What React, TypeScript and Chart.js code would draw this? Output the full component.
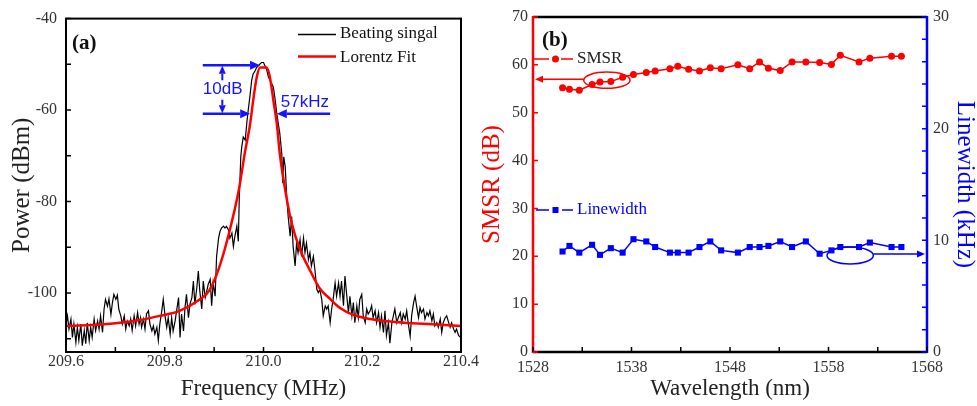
import { useEffect, useRef } from "react";
import { Chart, registerables } from "chart.js";

Chart.register(...registerables);

const SERIF = "'Liberation Serif', 'Times New Roman', serif";
const SANS = "'Liberation Sans', Arial, sans-serif";
const RED = "#ff0000";
const BLUE = "#0000ff";
const ANNOT_BLUE = "#1414ff";
const TICK_COLOR = "#333333";

// ---------- Panel (a): beating spectrum ----------
const FREQ_TICKS = [209.6, 209.8, 210.0, 210.2, 210.4];
const FREQ_MINOR_TICKS = [209.7, 209.9, 210.1, 210.3];
const POWER_TICKS = [-100, -80, -60, -40];
const POWER_MINOR_TICKS = [-110, -90, -70, -50];
const FREQ_RANGE = [209.6, 210.4];
const POWER_RANGE = [-112.9, -40];

// [frequency MHz, power dBm]
const BEATING_SIGNAL: [number, number][] = [
  [209.600, -106.8], [209.603, -105.0], [209.606, -107.9], [209.610, -105.7], [209.613, -109.7],
  [209.616, -106.8], [209.620, -110.8], [209.623, -107.5], [209.626, -110.4], [209.630, -106.8],
  [209.633, -111.5], [209.637, -108.2], [209.640, -111.1], [209.643, -106.5], [209.647, -110.4],
  [209.650, -107.5], [209.653, -109.7], [209.657, -105.7], [209.660, -108.2], [209.664, -106.1],
  [209.667, -107.9], [209.670, -105.0], [209.674, -108.6], [209.677, -103.6], [209.680, -101.4],
  [209.684, -102.9], [209.687, -101.3], [209.691, -104.7], [209.694, -102.1], [209.697, -100.3],
  [209.701, -101.4], [209.704, -100.5], [209.707, -103.6], [209.711, -105.0], [209.714, -106.8],
  [209.718, -105.0], [209.721, -107.9], [209.724, -106.1], [209.728, -107.2], [209.731, -105.7],
  [209.734, -108.2], [209.738, -105.0], [209.741, -107.2], [209.745, -104.3], [209.748, -106.8],
  [209.751, -105.4], [209.753, -107.5], [209.757, -105.7], [209.760, -107.9], [209.763, -104.6],
  [209.767, -103.9], [209.770, -106.8], [209.774, -108.3], [209.777, -107.2], [209.780, -109.0],
  [209.784, -107.5], [209.787, -110.4], [209.790, -106.8], [209.794, -103.9], [209.797, -101.4],
  [209.801, -105.4], [209.804, -107.5], [209.807, -105.4], [209.811, -109.0], [209.814, -105.4],
  [209.817, -108.3], [209.821, -106.1], [209.824, -103.9], [209.828, -101.0], [209.831, -109.7],
  [209.834, -104.6], [209.838, -108.3], [209.841, -103.2], [209.844, -100.3], [209.848, -105.4],
  [209.851, -102.5], [209.855, -101.0], [209.858, -97.4], [209.861, -102.5], [209.865, -98.8],
  [209.868, -95.2], [209.871, -99.6], [209.875, -103.5], [209.878, -97.4], [209.882, -101.0],
  [209.885, -99.6], [209.888, -98.1], [209.892, -97.0], [209.895, -102.8], [209.898, -97.8],
  [209.902, -100.7], [209.905, -92.0], [209.909, -88.0], [209.912, -86.5], [209.915, -85.8],
  [209.919, -85.4], [209.922, -85.8], [209.925, -85.4], [209.929, -86.2], [209.932, -88.0],
  [209.936, -86.9], [209.939, -89.8], [209.942, -87.6], [209.946, -85.4], [209.949, -88.7],
  [209.951, -78.9], [209.954, -70.2], [209.956, -68.0], [209.959, -65.9], [209.963, -66.6],
  [209.966, -63.0], [209.969, -60.1], [209.973, -56.5], [209.976, -53.5], [209.979, -52.1],
  [209.983, -51.4], [209.986, -50.7], [209.990, -50.3], [209.993, -49.9], [209.996, -49.6],
  [210.000, -49.6], [210.003, -50.3], [210.006, -51.0], [210.010, -52.8], [210.017, -54.3],
  [210.020, -55.0], [210.023, -57.2], [210.027, -60.8], [210.030, -63.0], [210.033, -65.1],
  [210.037, -69.5], [210.039, -76.0], [210.041, -70.2], [210.044, -72.4], [210.047, -78.9],
  [210.050, -83.3], [210.054, -87.6], [210.057, -83.3], [210.060, -89.8], [210.064, -94.1],
  [210.067, -89.1], [210.070, -91.2], [210.074, -88.3], [210.077, -92.0], [210.081, -88.0],
  [210.084, -91.2], [210.087, -89.1], [210.091, -92.7], [210.094, -91.2], [210.097, -94.1],
  [210.101, -92.0], [210.104, -94.8], [210.108, -99.2], [210.111, -99.9], [210.114, -99.2],
  [210.118, -101.4], [210.121, -105.0], [210.125, -102.8], [210.128, -103.5], [210.131, -102.8],
  [210.135, -106.5], [210.138, -103.5], [210.141, -101.4], [210.145, -97.8], [210.148, -100.7],
  [210.152, -97.8], [210.155, -100.7], [210.158, -97.4], [210.162, -102.8], [210.165, -96.3],
  [210.168, -99.9], [210.172, -104.3], [210.175, -100.7], [210.179, -105.0], [210.182, -102.1],
  [210.185, -106.5], [210.189, -102.8], [210.192, -105.4], [210.195, -101.4], [210.199, -100.3],
  [210.202, -105.0], [210.206, -106.5], [210.209, -103.5], [210.212, -104.6], [210.216, -103.9],
  [210.219, -102.8], [210.222, -105.4], [210.226, -103.9], [210.229, -106.5], [210.233, -104.3],
  [210.236, -107.5], [210.239, -105.0], [210.243, -108.6], [210.246, -103.9], [210.249, -109.3],
  [210.253, -106.5], [210.256, -111.0], [210.260, -106.5], [210.263, -105.0], [210.266, -103.5],
  [210.270, -106.5], [210.273, -105.4], [210.277, -104.3], [210.280, -106.5], [210.283, -104.6],
  [210.287, -105.7], [210.290, -103.9], [210.293, -106.5], [210.297, -109.5], [210.300, -105.0],
  [210.304, -102.1], [210.307, -100.7], [210.310, -102.8], [210.314, -105.4], [210.317, -103.2],
  [210.320, -104.3], [210.324, -103.5], [210.327, -105.7], [210.331, -104.3], [210.334, -105.0],
  [210.337, -103.9], [210.341, -106.1], [210.344, -104.6], [210.347, -107.2], [210.351, -106.5],
  [210.354, -107.5], [210.358, -105.7], [210.361, -108.6], [210.364, -106.5], [210.368, -105.4],
  [210.371, -105.0], [210.374, -106.1], [210.378, -107.5], [210.381, -106.5], [210.385, -107.9],
  [210.388, -108.6], [210.391, -107.9], [210.395, -109.3], [210.398, -109.6], [210.400, -109.8],
];

const LORENTZ_FIT: [number, number][] = [
  [209.600, -107.2], [209.650, -107.0], [209.700, -106.6], [209.750, -105.9], [209.790, -105.0],
  [209.830, -103.9], [209.870, -101.5], [209.890, -99.5], [209.910, -94.5], [209.930, -87.0],
  [209.950, -77.5], [209.962, -69.5], [209.973, -63.0], [209.979, -58.0], [209.986, -53.0],
  [209.993, -50.7], [210.006, -50.7], [210.013, -52.8], [210.020, -57.9], [210.027, -63.0],
  [210.033, -69.5], [210.044, -77.5], [210.057, -84.7], [210.074, -90.5], [210.094, -95.0],
  [210.114, -99.0], [210.135, -101.3], [210.155, -103.3], [210.182, -104.8], [210.216, -105.7],
  [210.250, -106.2], [210.300, -106.6], [210.350, -106.9], [210.400, -107.2],
];

// annotation (data coordinates)
const PEAK_LEVEL = -50.2;
const DROP_LEVEL = -60.8;

// ---------- Panel (b): SMSR and linewidth ----------
const WL_TICKS = [1528, 1538, 1548, 1558, 1568];
const WL_MINOR_TICKS = [1533, 1543, 1553, 1563];
const SMSR_TICKS = [0, 10, 20, 30, 40, 50, 60, 70];
const LW_TICKS = [0, 10, 20, 30];
const LW_MINOR_TICKS = [2, 4, 6, 8, 12, 14, 16, 18, 22, 24, 26, 28];

const WAVELENGTHS = [
  1531.0, 1531.7, 1532.7, 1534.0, 1534.8, 1535.9, 1537.1, 1538.2, 1539.5, 1540.4,
  1541.9, 1542.7, 1543.8, 1544.9, 1546.0, 1547.1, 1548.8, 1550.0, 1551.0, 1551.9,
  1553.1, 1554.3, 1555.7, 1557.1, 1558.3, 1559.2, 1561.1, 1562.2, 1564.4, 1565.4,
];
const SMSR = [
  55.2, 54.9, 54.7, 55.9, 56.4, 56.5, 57.4, 58.0, 58.4, 58.7,
  59.2, 59.7, 59.1, 58.7, 59.4, 59.2, 60.0, 59.2, 60.6, 59.3,
  58.8, 60.6, 60.6, 60.5, 60.1, 62.0, 60.6, 61.4, 61.8, 61.8,
];
const LINEWIDTH = [
  9.0, 9.5, 8.9, 9.6, 8.7, 9.3, 8.9, 10.1, 9.9, 9.4,
  8.9, 8.9, 8.9, 9.4, 9.9, 9.1, 8.9, 9.4, 9.4, 9.5,
  9.9, 9.4, 9.9, 8.8, 9.1, 9.4, 9.4, 9.8, 9.4, 9.4,
];

// ellipse markers (data coordinates)
const SMSR_ELLIPSE = { x: 1535.5, y: 56.8, rx: 2.35, ry: 1.7, arrowY: 57.0 };
const LW_ELLIPSE = { x: 1560.2, y: 8.64, rx: 2.35, ry: 0.76, arrowY: 8.77 };

function arrow(ctx: CanvasRenderingContext2D, x1: number, y1: number, x2: number, y2: number, len: number, half: number) {
  const ang = Math.atan2(y2 - y1, x2 - x1);
  const bx = x2 - len * Math.cos(ang);
  const by = y2 - len * Math.sin(ang);
  ctx.beginPath();
  ctx.moveTo(x1, y1);
  ctx.lineTo(bx, by);
  ctx.stroke();
  ctx.beginPath();
  ctx.moveTo(x2, y2);
  ctx.lineTo(bx + half * Math.sin(ang), by - half * Math.cos(ang));
  ctx.lineTo(bx - half * Math.sin(ang), by + half * Math.cos(ang));
  ctx.closePath();
  ctx.fill();
}

const panelAPlugin = {
  id: "panelA",
  afterDraw(chart: any) {
    const { ctx, chartArea: ca, scales } = chart;
    const xs = scales.x;
    const ys = scales.y;
    ctx.save();
    ctx.strokeStyle = "#000";
    ctx.lineWidth = 2;
    ctx.strokeRect(ca.left, ca.top, ca.right - ca.left, ca.bottom - ca.top);
    ctx.lineWidth = 1.5;
    ctx.beginPath();
    [...FREQ_TICKS, ...FREQ_MINOR_TICKS].forEach((v) => {
      const p = xs.getPixelForValue(v);
      ctx.moveTo(p, ca.bottom);
      ctx.lineTo(p, ca.bottom - 5);
    });
    [...POWER_TICKS, ...POWER_MINOR_TICKS].forEach((v) => {
      const p = ys.getPixelForValue(v);
      ctx.moveTo(ca.left, p);
      ctx.lineTo(ca.left + 5, p);
    });
    ctx.stroke();

    // legend
    const lx0 = ca.left + 232;
    const lx1 = ca.left + 270;
    ctx.lineWidth = 1.5;
    ctx.strokeStyle = "#000";
    ctx.beginPath();
    ctx.moveTo(lx0, ca.top + 16);
    ctx.lineTo(lx1, ca.top + 16);
    ctx.stroke();
    ctx.lineWidth = 2.5;
    ctx.strokeStyle = RED;
    ctx.beginPath();
    ctx.moveTo(lx0, ca.top + 38);
    ctx.lineTo(lx1, ca.top + 38);
    ctx.stroke();
    ctx.fillStyle = "#111";
    ctx.font = `17px ${SERIF}`;
    ctx.textAlign = "left";
    ctx.textBaseline = "middle";
    ctx.fillText("Beating singal", lx1 + 4, ca.top + 15);
    ctx.fillText("Lorentz Fit", lx1 + 4, ca.top + 39);

    ctx.font = `bold 21px ${SERIF}`;
    ctx.fillText("(a)", ca.left + 6, ca.top + 25);

    // linewidth annotation
    ctx.strokeStyle = ANNOT_BLUE;
    ctx.fillStyle = ANNOT_BLUE;
    const yTop = ys.getPixelForValue(PEAK_LEVEL);
    const yBot = ys.getPixelForValue(DROP_LEVEL);
    ctx.lineWidth = 2.5;
    arrow(ctx, xs.getPixelForValue(209.877), yTop, xs.getPixelForValue(209.993), yTop, 10, 4.5);
    arrow(ctx, xs.getPixelForValue(209.877), yBot, xs.getPixelForValue(209.973), yBot, 10, 4.5);
    arrow(ctx, xs.getPixelForValue(210.135), yBot, xs.getPixelForValue(210.027), yBot, 10, 4.5);
    const vx = xs.getPixelForValue(209.9166);
    ctx.lineWidth = 2;
    arrow(ctx, vx, yTop + 15, vx, yTop + 0.5, 8, 3.5);
    arrow(ctx, vx, yBot - 14, vx, yBot - 0.5, 8, 3.5);
    ctx.font = `17px ${SANS}`;
    ctx.textBaseline = "middle";
    ctx.fillText("10dB", xs.getPixelForValue(209.877), ys.getPixelForValue(-55.5));
    ctx.fillText("57kHz", xs.getPixelForValue(210.035), ys.getPixelForValue(-58.2));
    ctx.restore();
  },
};

const panelBPlugin = {
  id: "panelB",
  afterDraw(chart: any) {
    const { ctx, chartArea: ca, scales } = chart;
    const xs = scales.x;
    const ys = scales.y;
    const y1 = scales.y1;
    ctx.save();
    ctx.lineWidth = 2.5;
    ctx.strokeStyle = "#000";
    ctx.beginPath();
    ctx.moveTo(ca.left, ca.top);
    ctx.lineTo(ca.right, ca.top);
    ctx.moveTo(ca.left, ca.bottom);
    ctx.lineTo(ca.right, ca.bottom);
    ctx.stroke();
    ctx.lineWidth = 2.5;
    ctx.strokeStyle = RED;
    ctx.beginPath();
    ctx.moveTo(ca.left, ca.top - 1);
    ctx.lineTo(ca.left, ca.bottom + 1);
    ctx.stroke();
    ctx.strokeStyle = BLUE;
    ctx.beginPath();
    ctx.moveTo(ca.right, ca.top - 1);
    ctx.lineTo(ca.right, ca.bottom + 1);
    ctx.stroke();

    ctx.lineWidth = 1.5;
    ctx.strokeStyle = "#000";
    ctx.beginPath();
    [...WL_TICKS, ...WL_MINOR_TICKS].forEach((v) => {
      const p = xs.getPixelForValue(v);
      ctx.moveTo(p, ca.bottom);
      ctx.lineTo(p, ca.bottom - 5);
    });
    ctx.stroke();
    ctx.strokeStyle = RED;
    ctx.beginPath();
    SMSR_TICKS.forEach((v) => {
      const p = ys.getPixelForValue(v);
      ctx.moveTo(ca.left, p);
      ctx.lineTo(ca.left + 5, p);
    });
    ctx.stroke();
    ctx.strokeStyle = BLUE;
    ctx.beginPath();
    [...LW_TICKS, ...LW_MINOR_TICKS].forEach((v) => {
      const p = y1.getPixelForValue(v);
      ctx.moveTo(ca.right, p);
      ctx.lineTo(ca.right - 5, p);
    });
    ctx.stroke();

    // legends
    const lgL = ca.left + 1;
    ctx.lineWidth = 1.5;
    ctx.strokeStyle = RED;
    ctx.fillStyle = RED;
    const sy = ca.top + 42;
    ctx.beginPath();
    ctx.moveTo(lgL, sy);
    ctx.lineTo(lgL + 15, sy);
    ctx.moveTo(lgL + 27, sy);
    ctx.lineTo(lgL + 39, sy);
    ctx.stroke();
    ctx.beginPath();
    ctx.arc(lgL + 21.5, sy, 3.5, 0, Math.PI * 2);
    ctx.fill();
    ctx.fillStyle = "#222";
    ctx.font = `17px ${SERIF}`;
    ctx.textAlign = "left";
    ctx.textBaseline = "middle";
    ctx.fillText("SMSR", lgL + 43, sy);

    const ly = ca.top + 193;
    ctx.strokeStyle = BLUE;
    ctx.fillStyle = BLUE;
    ctx.beginPath();
    ctx.moveTo(lgL + 2, ly);
    ctx.lineTo(lgL + 15, ly);
    ctx.moveTo(lgL + 28, ly);
    ctx.lineTo(lgL + 39, ly);
    ctx.stroke();
    ctx.fillRect(lgL + 18.5, ly - 3, 6, 6);
    ctx.fillText("Linewidth", lgL + 43, ly);

    ctx.fillStyle = "#111";
    ctx.font = `bold 21px ${SERIF}`;
    ctx.fillText("(b)", ca.left + 9, ca.top + 24);

    // ellipses & arrows
    const ell = (e: any, scaleY: any, color: string, toLeft: boolean) => {
      const cx = xs.getPixelForValue(e.x);
      const cy = scaleY.getPixelForValue(e.y);
      const rx = xs.getPixelForValue(e.x + e.rx) - cx;
      const ry = cy - scaleY.getPixelForValue(e.y + e.ry);
      ctx.strokeStyle = color;
      ctx.fillStyle = color;
      ctx.lineWidth = 1.5;
      ctx.beginPath();
      ctx.ellipse(cx, cy, rx, ry, 0, 0, Math.PI * 2);
      ctx.stroke();
      const ay = scaleY.getPixelForValue(e.arrowY);
      if (toLeft) arrow(ctx, cx - rx, ay, ca.left + 2, ay, 8, 3.5);
      else arrow(ctx, cx + rx, ay, ca.right - 2, ay, 8, 3.5);
    };
    ell(SMSR_ELLIPSE, ys, RED, true);
    ell(LW_ELLIPSE, y1, BLUE, false);
    ctx.restore();
  },
};

function fixedTicks(values: number[]) {
  return (scale: any) => {
    scale.ticks = values.map((v) => ({ value: v }));
  };
}

const tickFont = { family: SERIF, size: 16 };

function makeConfigA(): any {
  return {
    type: "line",
    data: {
      datasets: [
        {
          label: "Lorentz Fit",
          data: LORENTZ_FIT.map(([x, y]) => ({ x, y })),
          borderColor: RED,
          borderWidth: 2.5,
          pointRadius: 0,
          cubicInterpolationMode: "monotone",
        },
        {
          label: "Beating singal",
          data: BEATING_SIGNAL.map(([x, y]) => ({ x, y })),
          borderColor: "#000",
          borderWidth: 1.2,
          pointRadius: 0,
          tension: 0,
        },
      ],
    },
    options: {
      responsive: false,
      animation: false,
      devicePixelRatio: 1,
      layout: { padding: { top: 16, right: 19, left: 0, bottom: 0 } },
      plugins: { legend: { display: false }, tooltip: { enabled: false } },
      scales: {
        x: {
          type: "linear",
          min: FREQ_RANGE[0],
          max: FREQ_RANGE[1],
          afterBuildTicks: fixedTicks(FREQ_TICKS),
          afterFit: (s: any) => { s.height = 54; },
          grid: { display: false, drawTicks: false },
          border: { display: false },
          ticks: { font: tickFont, color: TICK_COLOR, padding: 0, maxRotation: 0, callback: (v: number) => v.toFixed(1) },
          title: { display: true, text: "Frequency (MHz)", font: { family: SERIF, size: 23, lineHeight: 1 }, color: "#222", padding: { top: 0, bottom: 6 } },
        },
        y: {
          type: "linear",
          min: POWER_RANGE[0],
          max: POWER_RANGE[1],
          afterBuildTicks: fixedTicks(POWER_TICKS),
          afterFit: (s: any) => { s.width = 66; },
          grid: { display: false, drawTicks: false },
          border: { display: false },
          ticks: { font: tickFont, color: TICK_COLOR, padding: 9, callback: (v: number) => String(v) },
          title: { display: true, text: "Power (dBm)", font: { family: SERIF, size: 25, lineHeight: 1 }, color: "#222", padding: { top: 9.5, bottom: 0 } },
        },
      },
    },
    plugins: [panelAPlugin],
  };
}

function makeConfigB(): any {
  return {
    type: "line",
    data: {
      datasets: [
        {
          label: "SMSR",
          data: WAVELENGTHS.map((x, i) => ({ x, y: SMSR[i] })),
          yAxisID: "y",
          borderColor: RED,
          backgroundColor: RED,
          borderWidth: 1.5,
          pointStyle: "circle",
          pointRadius: 3.5,
          pointBorderWidth: 0,
        },
        {
          label: "Linewidth",
          data: WAVELENGTHS.map((x, i) => ({ x, y: LINEWIDTH[i] })),
          yAxisID: "y1",
          borderColor: BLUE,
          backgroundColor: BLUE,
          borderWidth: 1.5,
          pointStyle: "rect",
          pointRadius: 4.3,
          pointBorderWidth: 0,
        },
      ],
    },
    options: {
      responsive: false,
      animation: false,
      devicePixelRatio: 1,
      layout: { padding: { top: 17, right: 0, left: 0, bottom: 0 } },
      plugins: { legend: { display: false }, tooltip: { enabled: false } },
      scales: {
        x: {
          type: "linear",
          min: 1528,
          max: 1568,
          afterBuildTicks: fixedTicks(WL_TICKS),
          afterFit: (s: any) => { s.height = 54; },
          grid: { display: false, drawTicks: false },
          border: { display: false },
          ticks: { font: tickFont, color: TICK_COLOR, padding: 6, maxRotation: 0, callback: (v: number) => String(v) },
          title: { display: true, text: "Wavelength (nm)", font: { family: SERIF, size: 23, lineHeight: 1 }, color: "#222", padding: { top: 0, bottom: 6 } },
        },
        y: {
          type: "linear",
          position: "left",
          min: 0,
          max: 70,
          afterBuildTicks: fixedTicks(SMSR_TICKS),
          afterFit: (s: any) => { s.width = 53; },
          grid: { display: false, drawTicks: false },
          border: { display: false },
          ticks: { font: tickFont, color: TICK_COLOR, padding: 5, callback: (v: number) => String(v) },
          title: { display: true, text: "SMSR (dB)", font: { family: SERIF, size: 25, lineHeight: 1 }, color: RED, padding: { top: 0, bottom: 0 } },
        },
        y1: {
          type: "linear",
          position: "right",
          min: 0,
          max: 30,
          afterBuildTicks: fixedTicks(LW_TICKS),
          afterFit: (s: any) => { s.width = 50; },
          grid: { display: false, drawTicks: false },
          border: { display: false },
          ticks: { font: tickFont, color: TICK_COLOR, padding: 6, callback: (v: number) => String(v) },
          title: { display: true, text: "Linewidth (kHz)", font: { family: SERIF, size: 25, lineHeight: 1 }, color: BLUE, padding: { top: 0, bottom: 0 } },
        },
      },
    },
    plugins: [panelBPlugin],
  };
}

export default function App() {
  const refA = useRef<HTMLCanvasElement>(null);
  const refB = useRef<HTMLCanvasElement>(null);
  useEffect(() => {
    const a = new Chart(refA.current as HTMLCanvasElement, makeConfigA());
    const b = new Chart(refB.current as HTMLCanvasElement, makeConfigB());
    return () => {
      a.destroy();
      b.destroy();
    };
  }, []);
  return (
    <div style={{ position: "fixed", left: 0, top: 0, width: 977, height: 406, background: "#fff" }}>
      <canvas ref={refA} width={480} height={406} style={{ position: "absolute", left: 0, top: 0, width: 480, height: 406 }} />
      <canvas ref={refB} width={497} height={406} style={{ position: "absolute", left: 480, top: 0, width: 497, height: 406 }} />
    </div>
  );
}
